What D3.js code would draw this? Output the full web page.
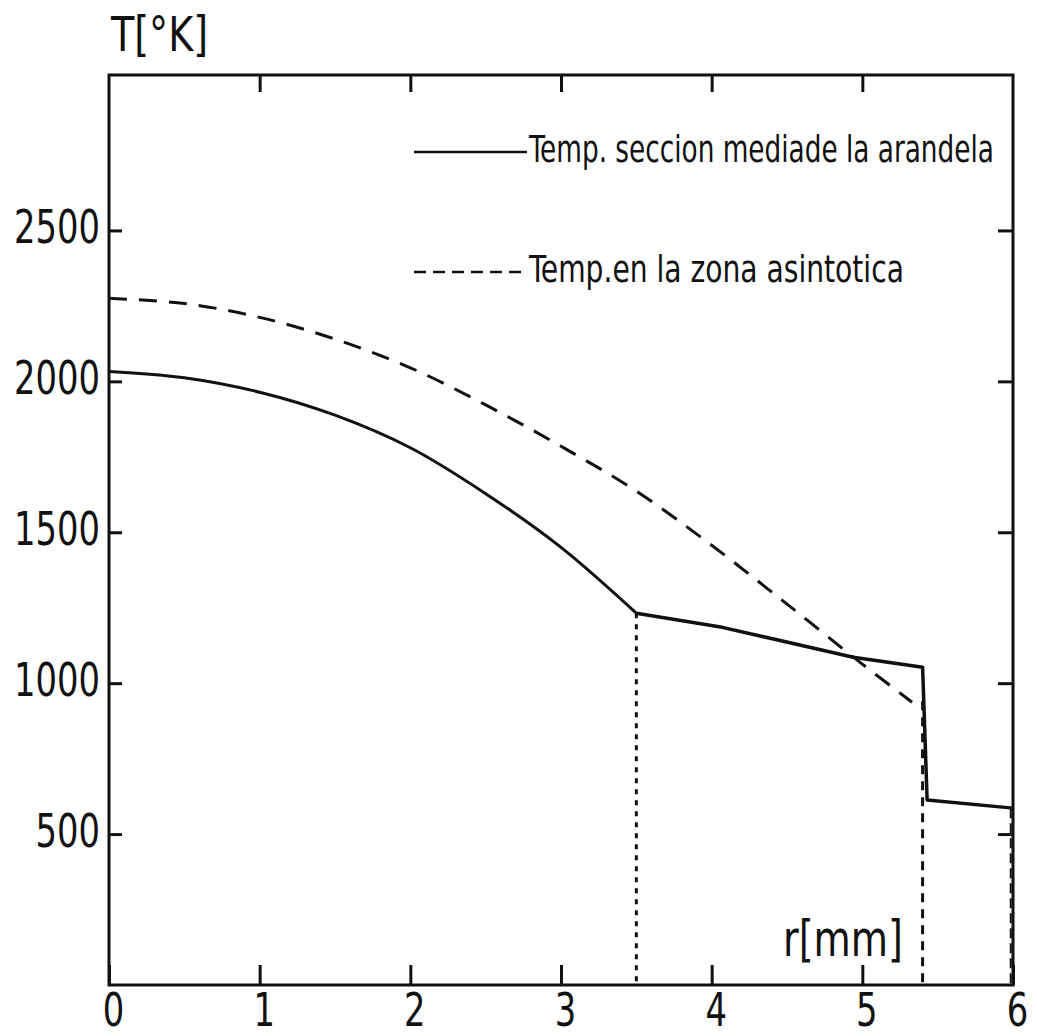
<!DOCTYPE html>
<html>
<head>
<meta charset="utf-8">
<script src="https://cdn.jsdelivr.net/npm/d3@7"></script>
<style>
  body { margin: 0; background: #fff; }
  text { font-family: "DejaVu Sans Condensed", "DejaVu Sans", sans-serif; font-stretch: condensed; fill: #111; }
</style>
</head>
<body>
<div id="chart"></div>
<script>
// size of the page and the plot box
const FRAME_WIDTH = 1037;
const FRAME_HEIGHT = 1036;
const BOX = {left: 109, right: 1013, top: 75, bottom: 985};
const Y_MAX = 3015;

// tick values
const X_TICKS = [0, 1, 2, 3, 4, 5, 6];
const Y_TICKS = [500, 1000, 1500, 2000, 2500];

// solid curve (smooth part up to r = 3.5)
const R_SOLID = [0, 0.5, 1.0, 1.5, 2.0, 2.5, 3.0, 3.5];
const T_SOLID = [2033, 2012, 1964, 1888, 1780, 1628, 1450, 1232];

// solid curve (straight pieces after r = 3.5)
const R_SOLID_TAIL = [3.5, 4.07, 4.94, 5.40, 5.43, 6.0];
const T_SOLID_TAIL = [1232, 1185, 1086, 1053, 613, 586];

// dashed curve
const R_DASHED = [0, 0.5, 1.0, 1.5, 2.0, 2.5, 3.0, 3.5, 4.0, 4.5, 5.0, 5.33];
const T_DASHED = [2275, 2258, 2212, 2140, 2045, 1922, 1785, 1636, 1457, 1262, 1063, 937];

// vertical guide lines: position, top value, dash pattern
const GUIDE_R = [3.5, 5.4, 5.985];
const GUIDE_TOP = [1232, 940, 586];
const GUIDE_DASH = ["5,6", "9,7", "10,5"];

const LEGEND_LABELS = ["Temp. seccion mediade la arandela", "Temp.en la zona asintotica"];

const svg = d3.select("#chart")
    .append("svg")
    .attr("width", FRAME_WIDTH)
    .attr("height", FRAME_HEIGHT);

const x = d3.scaleLinear().domain([0, 6]).range([BOX.left, BOX.right]);
const y = d3.scaleLinear().domain([0, Y_MAX]).range([BOX.bottom, BOX.top]);

// left axis with labels, ticks pointing in
svg.append("g")
    .attr("class", "yaxis")
    .attr("transform", "translate(" + BOX.left + ",0)")
    .call(d3.axisLeft(y).tickValues(Y_TICKS).tickFormat(d3.format("d"))
        .tickSizeInner(-13).tickSizeOuter(0).tickPadding(9))
    .call(g => g.select(".domain").remove());

// right axis, ticks only
svg.append("g")
    .attr("transform", "translate(" + BOX.right + ",0)")
    .call(d3.axisRight(y).tickValues(Y_TICKS).tickSizeInner(-15).tickSizeOuter(0).tickFormat(""))
    .call(g => g.select(".domain").remove());

// top axis, ticks only
svg.append("g")
    .attr("transform", "translate(0," + BOX.top + ")")
    .call(d3.axisTop(x).tickValues(X_TICKS.slice(1, -1)).tickSizeInner(-17).tickSizeOuter(0).tickFormat(""))
    .call(g => g.select(".domain").remove());

// bottom axis with labels
svg.append("g")
    .attr("class", "xaxis")
    .attr("transform", "translate(0," + BOX.bottom + ")")
    .call(d3.axisBottom(x).tickValues(X_TICKS).tickFormat(d3.format("d"))
        .tickSizeInner(-20).tickSizeOuter(0).tickPadding(8))
    .call(g => g.select(".domain").remove());

svg.selectAll(".tick line").attr("stroke", "#111").attr("stroke-width", 3);
svg.selectAll(".tick text")
    .style("font-size", "46px")
    .attr("fill", "#111")
    .attr("lengthAdjust", "spacingAndGlyphs")
    .attr("textLength", function() { return this.textContent.length * 21.5; });
svg.selectAll(".xaxis .tick text").attr("dx", 4);
svg.selectAll(".yaxis .tick text").attr("dy", "0.26em");

// frame
svg.append("rect")
    .attr("x", x(0)).attr("y", y(Y_MAX))
    .attr("width", x(6) - x(0)).attr("height", y(0) - y(Y_MAX))
    .attr("fill", "none").attr("stroke", "#111").attr("stroke-width", 3);

// guides
svg.selectAll(".guide")
    .data(GUIDE_R)
    .enter()
    .append("line")
    .attr("x1", d => x(d)).attr("x2", d => x(d))
    .attr("y1", (d, i) => y(GUIDE_TOP[i])).attr("y2", y(0))
    .attr("stroke", "#111").attr("stroke-width", (d, i) => i == 2 ? 2 : 3)
    .attr("stroke-dasharray", (d, i) => GUIDE_DASH[i]);

// curves
const smoothLine = d3.line().x(d => x(d[0])).y(d => y(d[1])).curve(d3.curveCatmullRom.alpha(0.5));
const tailLine = d3.line().x(d => x(d[0])).y(d => y(d[1]));

svg.append("path")
    .attr("d", smoothLine(d3.zip(R_SOLID, T_SOLID)))
    .attr("fill", "none").attr("stroke", "#111").attr("stroke-width", 3);

svg.append("path")
    .attr("d", tailLine(d3.zip(R_SOLID_TAIL, T_SOLID_TAIL)))
    .attr("fill", "none").attr("stroke", "#111").attr("stroke-width", 3.5)
    .attr("stroke-linejoin", "round");

svg.append("path")
    .attr("d", smoothLine(d3.zip(R_DASHED, T_DASHED)))
    .attr("fill", "none").attr("stroke", "#111").attr("stroke-width", 3)
    .attr("stroke-dasharray", "18,12");

// legend, text squeezed horizontally with a scale transform
const legendY = [152, 272];
const legendDash = [null, "12,7"];
const legendLen = [465, 375];
LEGEND_LABELS.forEach(function(label, i) {
    svg.append("line")
        .attr("x1", 414).attr("x2", 527)
        .attr("y1", legendY[i]).attr("y2", legendY[i])
        .attr("stroke", "#111").attr("stroke-width", 2.5)
        .attr("stroke-dasharray", legendDash[i]);
    const t = svg.append("text")
        .style("font-size", "38px")
        .text(label);
    const k = legendLen[i] / t.node().getComputedTextLength();
    t.attr("transform", "translate(529," + (legendY[i] + 10) + ") scale(" + k + ",1)");
});

// axis titles
svg.append("text")
    .attr("x", 111).attr("y", 51)
    .attr("textLength", 97).attr("lengthAdjust", "spacingAndGlyphs")
    .style("font-size", "48px")
    .text("T[°K]");

svg.append("text")
    .attr("x", 783).attr("y", 956)
    .attr("textLength", 120).attr("lengthAdjust", "spacingAndGlyphs")
    .style("font-size", "50px")
    .text("r[mm]");
</script>
</body>
</html>
